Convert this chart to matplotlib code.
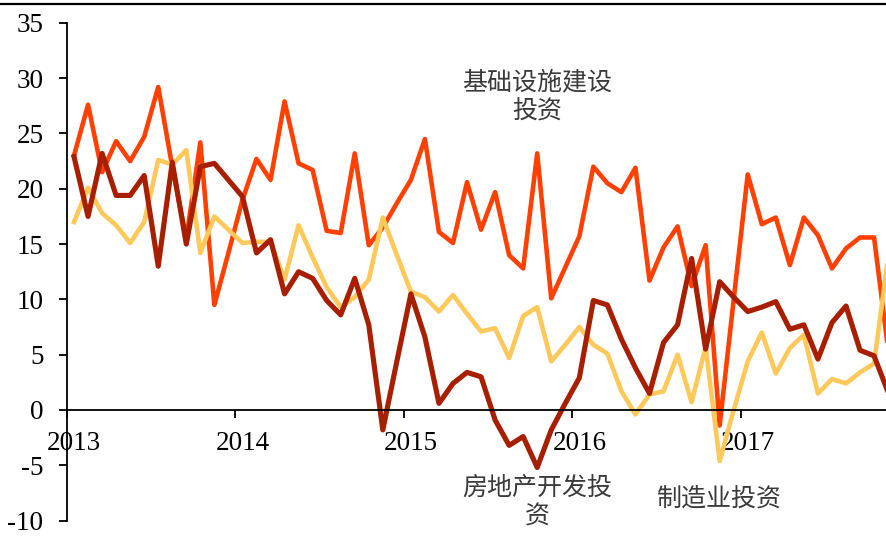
import matplotlib
matplotlib.use("Agg")
import matplotlib.pyplot as plt
from matplotlib.lines import Line2D

plt.rcParams["axes.unicode_minus"] = False

# monthly growth, Jan 2013 .. Nov 2017
infra = [23.0, 27.6, 21.5, 24.3, 22.5, 24.7, 29.2, 22.0, 15.5, 24.2,
         9.5, 14.2, 19.0, 22.7, 20.8, 27.9, 22.3, 21.7, 16.2, 16.0,
         23.2, 14.9, 16.5, 18.7, 20.8, 24.5, 16.1, 15.1, 20.6, 16.3,
         19.7, 14.0, 12.8, 23.2, 10.1, 12.9, 15.7, 22.0, 20.5, 19.7,
         21.9, 11.7, 14.7, 16.6, 11.2, 14.9, -1.4, 10.0, 21.3, 16.8,
         17.4, 13.1, 17.4, 15.8, 12.8, 14.6, 15.6, 15.6, 5.5]
manuf = [17.0, 20.1, 17.8, 16.7, 15.1, 17.0, 22.6, 22.2, 23.5, 14.2,
         17.5, 16.3, 15.1, 15.2, 15.2, 11.8, 16.7, 13.8, 11.1, 9.3,
         10.2, 11.8, 17.4, 14.0, 10.7, 10.2, 8.9, 10.4, 8.7, 7.1,
         7.4, 4.7, 8.5, 9.3, 4.4, 5.9, 7.5, 5.9, 5.1, 1.7,
         -0.4, 1.4, 1.7, 5.0, 0.7, 5.7, -4.6, 0.0, 4.4, 7.0,
         3.3, 5.6, 6.8, 1.5, 2.8, 2.4, 3.4, 4.2, 13.8]
estate = [22.9, 17.5, 23.2, 19.4, 19.4, 21.2, 13.0, 22.4, 15.0, 22.0,
          22.3, 20.8, 19.3, 14.2, 15.4, 10.5, 12.5, 11.9, 9.9, 8.6,
          11.9, 7.7, -1.8, 4.4, 10.5, 6.6, 0.6, 2.4, 3.4, 3.0,
          -0.9, -3.2, -2.4, -5.2, -1.8, 0.6, 2.9, 9.9, 9.5, 6.4,
          3.8, 1.5, 6.1, 7.7, 13.7, 5.5, 11.6, 10.2, 8.9, 9.3,
          9.8, 7.3, 7.7, 4.6, 7.9, 9.4, 5.4, 4.9, 1.6]
years = ["2013", "2014", "2015", "2016", "2017"]
labels = ["基础设施建设\n投资", "房地产开发投\n资", "制造业投资"]

x = list(range(len(infra)))

fig = plt.figure(figsize=(8.86, 5.41), dpi=100)
ax = fig.add_axes([67/886, 0.0377, 1 - 67/886, 0.92])

ax.plot(x, infra, color="#FF4000", lw=3.3)
ax.plot(x, manuf, color="#FFC85A", lw=3.3)
ax.plot(x, estate, color="#A81E00", lw=3.7)

ax.set_xlim(-0.5, 57.85)
ax.set_ylim(-10, 35)
ax.set_yticks(range(-10, 36, 5))

for s in ["top", "right"]:
    ax.spines[s].set_visible(False)
ax.spines["bottom"].set_position(("data", 0))
ax.spines["left"].set_linewidth(1.3)
ax.spines["bottom"].set_linewidth(1.3)

ax.set_xticks([-0.5 + 12*k for k in range(5)])
ax.set_xticklabels([""]*5)
ax.set_xticks([12*k for k in range(5)], minor=True)
ax.set_xticklabels(years, minor=True)
ax.tick_params(axis="x", which="major", direction="out", length=6, width=1.3)
ax.tick_params(axis="x", which="minor", length=0, pad=15)
ax.tick_params(axis="y", direction="out", length=6, width=1.3, pad=11)
for t in ax.get_xticklabels(minor=True) + ax.get_yticklabels():
    t.set_fontfamily("Liberation Serif")
    t.set_fontsize(19.5)

cjk = ["Noto Sans CJK SC", "DejaVu Sans"]
ax.text(33, 28.3, labels[0], ha="center", va="center", fontsize=18,
        family=cjk, color="#3a3a3a", linespacing=1.15)
ax.text(33, -8.3, labels[1], ha="center", va="center", fontsize=18,
        family=cjk, color="#3a3a3a", linespacing=1.15)
ax.text(46, -8.0, labels[2], ha="center", va="center", fontsize=18,
        family=cjk, color="#3a3a3a")

fig.add_artist(Line2D([0, 1], [1 - 3.5/541, 1 - 3.5/541], color="black", lw=1.6))

fig.savefig("out.png", dpi=100)
